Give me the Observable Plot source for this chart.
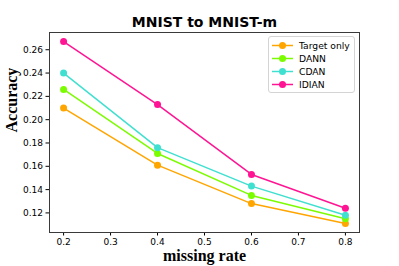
<!DOCTYPE html>
<html>
<head>
<meta charset="utf-8">
<script src="https://cdn.jsdelivr.net/npm/d3@7"></script>
<script src="https://cdn.jsdelivr.net/npm/@observablehq/plot@0.6"></script>
<style>
  body { margin: 0; background: #fff; }
  #wrap { position: relative; width: 399px; height: 266px; }
  #legend { position: absolute; left: 268px; top: 36px; width: 87px; height: 57px;
    border: 1px solid #d4d4d4; border-radius: 3px; background: rgba(255,255,255,0.8);
    font-family: "DejaVu Sans", sans-serif; font-size: 9.2px; color: #000; box-sizing: border-box; padding-top: 1.5px; }
  .item { display: flex; align-items: center; height: 13px; }
  .item svg { margin-left: 3px; margin-right: 6px; }
</style>
</head>
<body>
<div id="wrap"></div>
<script>
const missingRate = [0.2, 0.4, 0.6, 0.8];
const seriesNames = ["Target only", "DANN", "CDAN", "IDIAN"];
const targetOnly = [0.210, 0.161, 0.128, 0.111];
const dann = [0.226, 0.171, 0.135, 0.115];
const cdan = [0.240, 0.176, 0.143, 0.118];
const idian = [0.267, 0.213, 0.153, 0.124];
const seriesColors = ["#ffa500", "#7cfc00", "#40e0d0", "#ff1493"];
const xTicks = [0.2, 0.3, 0.4, 0.5, 0.6, 0.7, 0.8];
const yTicks = [0.12, 0.14, 0.16, 0.18, 0.20, 0.22, 0.24, 0.26];
const titleText = "MNIST to MNIST-m";
const xLabel = "missing rate";
const yLabel = "Accuracy";

const allValues = [targetOnly, dann, cdan, idian];
const data = [];
seriesNames.forEach((name, i) => {
  missingRate.forEach((r, j) => data.push({series: name, rate: r, acc: allValues[i][j]}));
});

const serif = "'Liberation Serif', 'Times New Roman', serif";
const chart = Plot.plot({
  width: 399,
  height: 266,
  marginTop: 32,
  marginBottom: 34,
  marginLeft: 49,
  marginRight: 40,
  style: {fontFamily: "'DejaVu Sans', sans-serif", fontSize: "9px", color: "#000", background: "#fff"},
  x: {domain: [0.17, 0.83]},
  y: {domain: [0.1032, 0.2748]},
  color: {domain: seriesNames, range: seriesColors},
  marks: [
    Plot.axisX({ticks: xTicks, tickFormat: ".1f", tickSize: 3.5, tickPadding: 3, label: null}),
    Plot.axisY({ticks: yTicks, tickFormat: ".2f", tickSize: 3.5, tickPadding: 3, label: null}),
    Plot.lineY(data, {x: "rate", y: "acc", z: "series", stroke: "series", strokeWidth: 1.5}),
    Plot.dot(data, {x: "rate", y: "acc", fill: "series", r: 3.5}),
    Plot.frame({stroke: "#3a3a3a", strokeWidth: 1}),
    Plot.text([titleText], {frameAnchor: "top", lineAnchor: "bottom", dy: -6, fontSize: 14, fontWeight: "bold"}),
    Plot.text([xLabel], {frameAnchor: "bottom", lineAnchor: "bottom", dy: 28, fontSize: 16, fontWeight: "bold", fontFamily: serif}),
    Plot.text([yLabel], {frameAnchor: "left", rotate: -90, dx: -38, fontSize: 16, fontWeight: "bold", fontFamily: serif})
  ]
});
const wrap = document.getElementById("wrap");
wrap.appendChild(chart);

const legend = document.createElement("div");
legend.id = "legend";
seriesNames.forEach((name, i) => {
  const item = document.createElement("div");
  item.className = "item";
  item.innerHTML = `<svg width="21" height="9"><line x1="0" x2="21" y1="4.5" y2="4.5" stroke="${seriesColors[i]}" stroke-width="1.5"/><circle cx="10.5" cy="4.5" r="3.5" fill="${seriesColors[i]}"/></svg><span>${name}</span>`;
  legend.appendChild(item);
});
wrap.appendChild(legend);
</script>
</body>
</html>
